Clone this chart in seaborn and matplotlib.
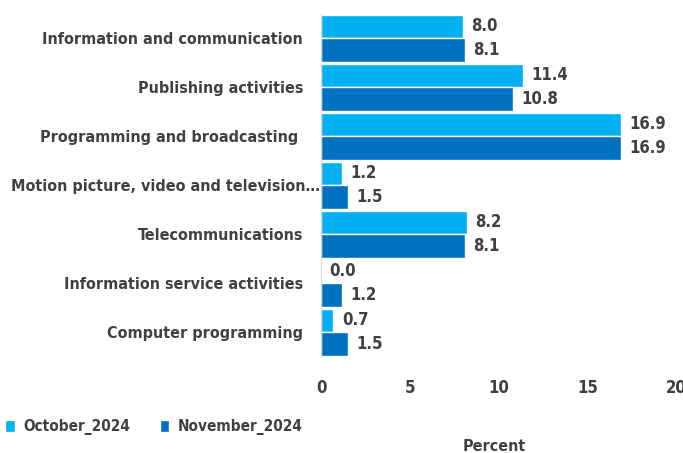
import matplotlib
matplotlib.use("Agg")
import matplotlib.pyplot as plt
import matplotlib.transforms as mtransforms
import seaborn as sns
import pandas as pd
from matplotlib import font_manager as fm

categories = ["Information and communication", "Publishing activities",
              "Programming and broadcasting ", "Motion picture, video and television…",
              "Telecommunications", "Information service activities", "Computer programming"]
series_names = ["October_2024", "November_2024"]
october = [8.0, 11.4, 16.9, 1.2, 8.2, 0.0, 0.7]
november = [8.1, 10.8, 16.9, 1.5, 8.1, 1.2, 1.5]
x_ticks = [0, 5, 10, 15, 20]

sns.set_theme(style="white")
cond = None
for f in fm.fontManager.ttflist:
    if "Condensed" in f.fname and "Bold" in f.fname and "Oblique" not in f.fname and "DejaVu" in f.fname:
        cond = f.fname
        break
if cond:
    fm.fontManager.addfont(cond)
plt.rcParams['font.family'] = ['DejaVu Sans']
plt.rcParams['font.stretch'] = 'condensed'
plt.rcParams['font.weight'] = 'bold'

df = pd.DataFrame({
    "Category": categories * 2,
    "Series": [series_names[0]] * len(categories) + [series_names[1]] * len(categories),
    "Value": october + november,
})

text_color = "#404040"
fs = 11.5
fig = plt.figure(figsize=(6.83, 4.53), dpi=100)
ax = fig.add_axes([0.47, 0.213, 0.52, 0.757])
sns.barplot(data=df, y="Category", x="Value", hue="Series", orient="h",
            palette=["#00B0F0", "#0070C0"], saturation=1, width=0.96, edgecolor="white",
            linewidth=1, ax=ax, legend=True)

for cont in ax.containers:
    ax.bar_label(cont, fmt="%.1f", padding=6, fontsize=12, fontweight="bold",
                 fontstretch="condensed", color=text_color)

ax.set_xlim(0, 20)
ax.set_xticks(x_ticks)
ax.tick_params(axis="x", length=0, pad=16, labelsize=12, labelcolor=text_color)
ax.tick_params(axis="y", length=0, pad=13, labelsize=fs, labelcolor=text_color)
for lab in ax.get_xticklabels() + ax.get_yticklabels():
    lab.set_fontweight("bold")
    lab.set_fontstretch("condensed")
# the truncated label sits closer to the axis, as in the reference
ylabs = ax.get_yticklabels()
offset = mtransforms.ScaledTranslation(12 / 72, 0, fig.dpi_scale_trans)
ylabs[3].set_transform(ylabs[3].get_transform() + offset)

ax.set_ylabel("")
ax.set_xlabel("Percent", fontsize=fs, fontweight="bold", fontstretch="condensed", color=text_color)
ax.xaxis.set_label_coords(0.487, -0.24)
for s in ["top", "right", "bottom"]:
    ax.spines[s].set_visible(False)
ax.spines["left"].set_color("#D9D9D9")
ax.spines["left"].set_linewidth(0.8)

handles, labels = ax.get_legend_handles_labels()
ax.get_legend().remove()
leg = fig.legend(handles, labels, loc="center left", bbox_to_anchor=(0.008, 0.057),
                 ncol=2, frameon=False, borderaxespad=0, borderpad=0,
                 prop=dict(size=11, weight="bold", stretch="condensed"),
                 handlelength=0.6, handleheight=0.9, handletextpad=0.6, columnspacing=1.9)
for t in leg.get_texts():
    t.set_color(text_color)

fig.savefig("out.png", dpi=100)
